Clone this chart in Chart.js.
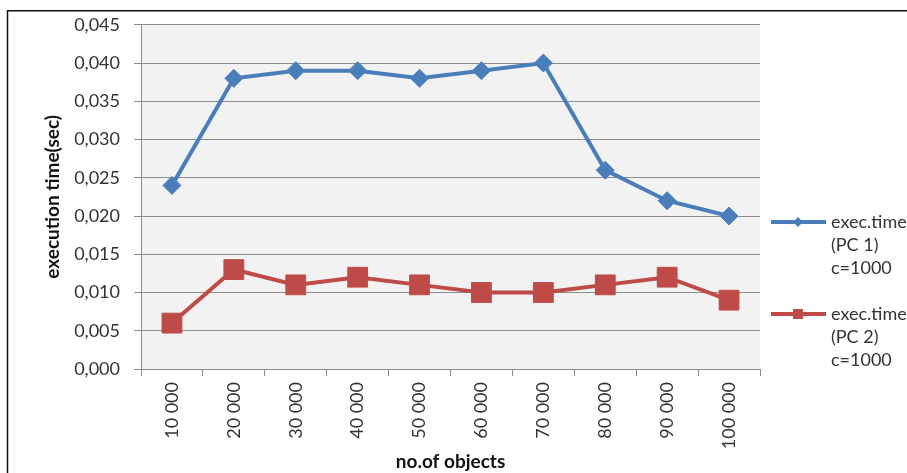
<!DOCTYPE html>
<html>
<head>
<meta charset="utf-8">
<script src="https://cdn.jsdelivr.net/npm/chart.js@4/dist/chart.umd.min.js"></script>
<style>
  html, body { margin: 0; padding: 0; background: #fff; }
  #wrap { width: 907px; height: 473px; position: relative; }
</style>
</head>
<body>
<div id="wrap"><canvas id="chart" width="907" height="473"></canvas></div>
<script>
// data
const categories = ['10 000', '20 000', '30 000', '40 000', '50 000', '60 000', '70 000', '80 000', '90 000', '100 000'];
const pc1 = [0.024, 0.038, 0.039, 0.039, 0.038, 0.039, 0.040, 0.026, 0.022, 0.020];
const pc2 = [0.006, 0.013, 0.011, 0.012, 0.011, 0.010, 0.010, 0.011, 0.012, 0.009];
const legendLabels = [['exec.time', '(PC 1)', 'c=1000'], ['exec.time', '(PC 2)', 'c=1000']];

const BLUE = '#4a7ebb';
const RED = '#be4b48';
const GRID = '#8c8c8c';
const TEXT = '#333333';
const FONT = 'Lato, "Open Sans", sans-serif';

// grey plot area + frame + legend
const decor = {
  id: 'decor',
  beforeDraw(chart) {
    const { ctx, chartArea: a } = chart;
    ctx.save();
    ctx.fillStyle = '#f2f2f2';
    ctx.fillRect(a.left, a.top, a.right - a.left, a.bottom - a.top);
    ctx.restore();
  },
  afterDraw(chart) {
    const ctx = chart.ctx;
    ctx.save();
    // outer frame (only top and left are visible)
    ctx.strokeStyle = '#111';
    ctx.lineWidth = 1.5;
    ctx.beginPath();
    ctx.moveTo(7.5, 473);
    ctx.lineTo(7.5, 10.75);
    ctx.lineTo(907, 10.75);
    ctx.stroke();

    // legend
    const items = [
      { color: BLUE, shape: 'diamond', y: 222 },
      { color: RED, shape: 'square', y: 314 }
    ];
    items.forEach((it, i) => {
      ctx.strokeStyle = it.color;
      ctx.fillStyle = it.color;
      ctx.lineWidth = 4;
      ctx.beginPath();
      ctx.moveTo(771, it.y);
      ctx.lineTo(826, it.y);
      ctx.stroke();
      const cx = 798;
      ctx.beginPath();
      if (it.shape === 'diamond') {
        ctx.moveTo(cx, it.y - 5);
        ctx.lineTo(cx + 5, it.y);
        ctx.lineTo(cx, it.y + 5);
        ctx.lineTo(cx - 5, it.y);
      } else {
        ctx.rect(cx - 5, it.y - 5, 10, 10);
      }
      ctx.closePath();
      ctx.fill();

      ctx.fillStyle = TEXT;
      ctx.font = '18px ' + FONT;
      ctx.textBaseline = 'middle';
      ctx.textAlign = 'left';
      legendLabels[i].forEach((t, k) => {
        ctx.fillText(t, 831, it.y + k * 23);
      });
    });
    ctx.restore();
  }
};

new Chart(document.getElementById('chart'), {
  type: 'line',
  data: {
    labels: categories,
    datasets: [
      {
        label: 'exec.time (PC 1) c=1000',
        data: pc1,
        borderColor: BLUE,
        backgroundColor: BLUE,
        borderWidth: 4,
        pointStyle: 'rectRot',
        pointRadius: 9,
        pointBorderWidth: 1,
        tension: 0
      },
      {
        label: 'exec.time (PC 2) c=1000',
        data: pc2,
        borderColor: RED,
        backgroundColor: RED,
        borderWidth: 4,
        pointStyle: 'rect',
        pointRadius: 14,
        pointBorderWidth: 1,
        tension: 0
      }
    ]
  },
  options: {
    responsive: false,
    animation: false,
    layout: { padding: { top: 24, right: 147, left: 0, bottom: 0 } },
    plugins: {
      legend: { display: false },
      tooltip: { enabled: false }
    },
    scales: {
      x: {
        offset: true,
        grid: { drawOnChartArea: false, drawTicks: true, tickLength: 7, color: GRID, offset: true },
        border: { display: true, color: GRID, width: 1 },
        ticks: {
          minRotation: 90,
          maxRotation: 90,
          padding: 6,
          color: TEXT,
          font: { family: FONT, size: 18 }
        },
        title: {
          display: true,
          text: 'no.of objects',
          color: '#111',
          font: { family: FONT, size: 19, weight: 'bold' },
          padding: { top: 0, bottom: 0 }
        },
        afterFit(scale) { scale.height = 104; }
      },
      y: {
        min: 0,
        max: 0.045,
        grid: { color: GRID, tickLength: 7, drawTicks: true },
        border: { display: true, color: GRID, width: 1 },
        ticks: {
          stepSize: 0.005,
          padding: 14,
          color: TEXT,
          font: { family: FONT, size: 18 },
          callback: v => v.toFixed(3).replace('.', ',')
        },
        title: {
          display: true,
          text: 'execution time(sec)',
          color: '#111',
          font: { family: FONT, size: 19, weight: 'bold' },
          padding: { top: 41, bottom: 0 }
        },
        afterFit(scale) { scale.width = 141; }
      }
    }
  },
  plugins: [decor]
});
</script>
</body>
</html>
